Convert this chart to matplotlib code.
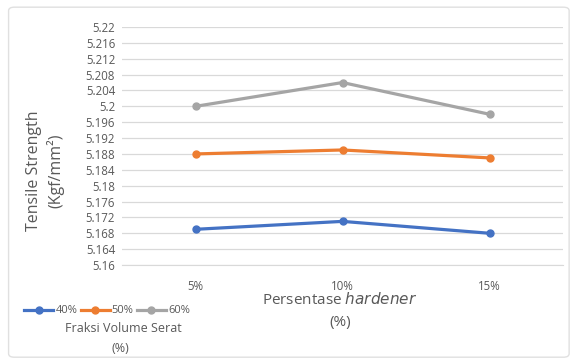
import matplotlib.pyplot as plt
from matplotlib.patches import FancyBboxPatch

hardener = ['5%', '10%', '15%']
fraksi_40 = [5.169, 5.171, 5.168]
fraksi_50 = [5.188, 5.189, 5.187]
fraksi_60 = [5.200, 5.206, 5.198]
series_labels = ['40%', '50%', '60%']
y_ticks = [5.16 + 0.004 * i for i in range(16)]
y_tick_labels = ['5.16', '5.164', '5.168', '5.172', '5.176', '5.18', '5.184', '5.188',
                 '5.192', '5.196', '5.2', '5.204', '5.208', '5.212', '5.216', '5.22']

plt.rcParams['font.family'] = ['Open Sans', 'DejaVu Sans']
text_color = '#595959'

fig = plt.figure(figsize=(5.72, 3.59), dpi=100)
fig.patch.set_facecolor('white')

# chart frame, kept behind the axes
frame = FancyBboxPatch((0.015, 0.005), 0.98, 0.975, boxstyle='round,pad=0,rounding_size=0.01',
                       transform=fig.transFigure, facecolor='white', edgecolor='#e0e0e0',
                       lw=1, zorder=-10)
fig.patches.append(frame)

ax = fig.add_axes([0.2133, 0.2618, 0.771, 0.663])
ax.patch.set_alpha(0)
colors = ['#4472c4', '#ed7d31', '#a5a5a5']
x = range(len(hardener))
for vals, lab, c in zip([fraksi_40, fraksi_50, fraksi_60], series_labels, colors):
    ax.plot(x, vals, color=c, lw=2.3, marker='o', ms=5, label=lab, zorder=3)

ax.set_xlim(-0.5, 2.5)
ax.set_ylim(5.16, 5.22)
ax.set_yticks(y_ticks)
ax.set_yticklabels(y_tick_labels)
ax.set_xticks(list(x))
ax.set_xticklabels(hardener)
ax.grid(axis='y', color='#d9d9d9', lw=0.9)
ax.set_axisbelow(True)
for s in ['top', 'right', 'left']:
    ax.spines[s].set_visible(False)
ax.spines['bottom'].set_color('#d9d9d9')
ax.tick_params(axis='both', length=0, labelsize=8.3, labelcolor=text_color)
ax.tick_params(axis='y', pad=5)
ax.tick_params(axis='x', pad=11)

# axis titles
fig.text(0.594, 0.164, 'Persentase $\\it{hardener}$', ha='center', va='center',
         fontsize=11, color=text_color)
fig.text(0.594, 0.103, '(%)', ha='center', va='center', fontsize=11, color=text_color)
fig.text(0.060, 0.525, 'Tensile Strength', rotation=90, ha='center', va='center',
         fontsize=11.5, color=text_color)
fig.text(0.097, 0.525, '(Kgf/mm²)', rotation=90, ha='center', va='center',
         fontsize=11.5, color=text_color)

leg = fig.legend(loc='center left', bbox_to_anchor=(0.025, 0.134), ncol=3, frameon=False,
                 fontsize=8, handlelength=2.6, columnspacing=0.3, handletextpad=0.2,
                 labelcolor=text_color)
fig.text(0.215, 0.086, 'Fraksi Volume Serat', ha='center', va='center', fontsize=9,
         color=text_color)
fig.text(0.21, 0.028, '(%)', ha='center', va='center', fontsize=9, color=text_color)

fig.savefig('out.png', dpi=100, facecolor='white')
